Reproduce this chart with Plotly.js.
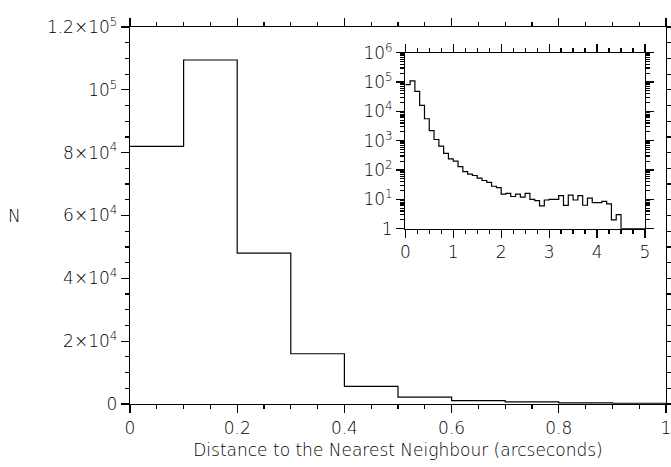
<!DOCTYPE html>
<html>
<head>
<meta charset="utf-8">
<script src="https://cdn.plot.ly/plotly-3.0.1.min.js"></script>
<style>html,body{margin:0;padding:0;background:#fff;}#chart{width:671px;height:467px;}</style>
</head>
<body>
<div id="chart"></div>
<script>
// Histogram of nearest-neighbour distances, bin width 0.1 arcsec
const binWidth = 0.1;
const counts = [82000, 109500, 48000, 16000, 5600, 2200, 1100, 650, 370, 240,
                200, 130, 88, 73, 65, 53, 44, 38, 28, 25,
                15, 16, 12.5, 15, 12, 16, 10, 9, 6, 9.5,
                10, 10, 13.5, 6.2, 14, 9.5, 13.5, 6.3, 11, 7.8,
                7.8, 8.5, 7, 2, 3, 0, 0, 0, 0, 0];
const mainYTickVals = [0, 20000, 40000, 60000, 80000, 100000, 120000];
const mainYTickText = ['0', '2×10<sup>4</sup>', '4×10<sup>4</sup>', '6×10<sup>4</sup>', '8×10<sup>4</sup>', '10<sup>5</sup>', '1.2×10<sup>5</sup>'];
const insetYTickVals = [1, 10, 100, 1000, 10000, 100000, 1000000];
const insetYTickText = ['1', '10<sup>1</sup>', '10<sup>2</sup>', '10<sup>3</sup>', '10<sup>4</sup>', '10<sup>5</sup>', '10<sup>6</sup>'];
const xTitle = 'Distance to the Nearest Neighbour (arcseconds)';
const yTitle = 'N';

const edges = counts.map((c, i) => +(i * binWidth).toFixed(2));
const lastEdge = +(counts.length * binWidth).toFixed(2);

// main panel: first 10 bins (0..1 arcsec)
const nMain = 10;
const mainX = edges.slice(0, nMain).concat([+(nMain * binWidth).toFixed(2)]);
const mainY = counts.slice(0, nMain).concat([counts[nMain - 1]]);

// inset: all bins on log scale (empty bins drawn on the lower limit)
const insetX = edges.concat([lastEdge]);
const insetY = counts.map(v => Math.max(v, 1)).concat([Math.max(counts[counts.length - 1], 1)]);

const minorLog = [];
for (let e = 0; e < 6; e++) for (let m = 2; m <= 9; m++) minorLog.push(m * Math.pow(10, e));

const font = {family: 'DejaVu Sans, sans-serif', size: 17, color: '#000', weight: 200};
const titleFont = {family: 'DejaVu Sans, sans-serif', size: 17, color: '#000', weight: 200};
const axCommon = {
  showgrid: false, zeroline: false, showline: true, linecolor: '#000', linewidth: 1.2,
  mirror: 'ticks', ticks: 'outside', tickcolor: '#000', tickwidth: 1.2, ticklen: 8,
  tickfont: font, ticklabeloverflow: 'allow'
};
const minorCommon = {ticks: 'outside', ticklen: 4, tickcolor: '#000', tickwidth: 1.2, showgrid: false};

const traces = [
  {x: mainX, y: mainY, type: 'scatter', mode: 'lines', line: {shape: 'hv', color: '#000', width: 1.2},
   xaxis: 'x', yaxis: 'y', hoverinfo: 'skip'},
  {x: insetX, y: insetY, type: 'scatter', mode: 'lines', line: {shape: 'hv', color: '#000', width: 1.2},
   xaxis: 'x2', yaxis: 'y2', hoverinfo: 'skip'}
];

const layout = {
  width: 671, height: 467,
  margin: {l: 130, r: 5, t: 27, b: 63},
  paper_bgcolor: '#fff', plot_bgcolor: 'rgba(0,0,0,0)',
  showlegend: false,
  font: font,
  xaxis: Object.assign({}, axCommon, {
    range: [0, 1], dtick: 0.2, tick0: 0,
    minor: Object.assign({dtick: 0.05}, minorCommon),
    title: {text: xTitle, font: titleFont, standoff: 7}
  }),
  yaxis: Object.assign({}, axCommon, {
    range: [0, 120000], tickmode: 'array', tickvals: mainYTickVals, ticktext: mainYTickText,
    minor: Object.assign({dtick: 5000}, minorCommon)
  }),
  xaxis2: Object.assign({}, axCommon, {
    domain: [0.5136, 0.9608], anchor: 'y2', range: [0, 5], dtick: 1, tick0: 0,
    minor: Object.assign({dtick: 0.25}, minorCommon)
  }),
  yaxis2: Object.assign({}, axCommon, {
    domain: [0.465, 0.9318], anchor: 'x2', type: 'log', range: [0, 6],
    tickmode: 'array', tickvals: insetYTickVals, ticktext: insetYTickText,
    minor: Object.assign({tickmode: 'array', tickvals: minorLog}, minorCommon)
  }),
  annotations: [
    {text: yTitle, xref: 'paper', yref: 'paper', x: -0.2146, y: 0.4987,
     xanchor: 'center', yanchor: 'middle', showarrow: false, font: titleFont}
  ]
};

Plotly.newPlot('chart', traces, layout, {displayModeBar: false, staticPlot: true});
</script>
</body>
</html>
